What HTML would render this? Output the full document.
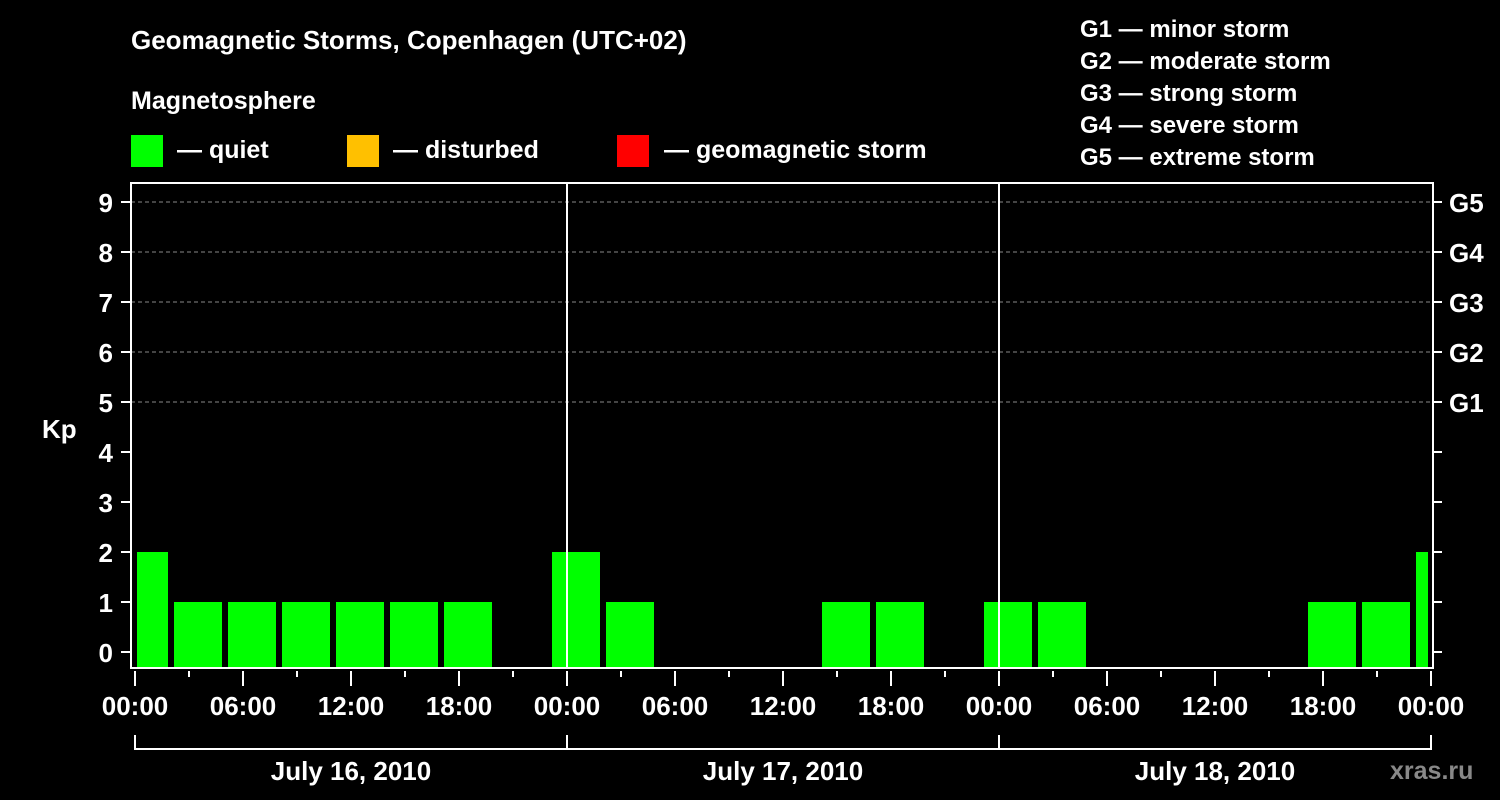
<!DOCTYPE html>
<html><head><meta charset="utf-8"><style>
body{margin:0;background:#000;}
svg{display:block;font-family:"Liberation Sans",Arial,sans-serif;font-weight:bold;}
</style></head><body>
<svg id="c" width="1500" height="800" viewBox="0 0 1500 800">
<rect width="1500" height="800" fill="#000"/>
<text x="131" y="49" fill="#fff" font-size="26">Geomagnetic Storms, Copenhagen (UTC+02)</text>
<text x="131" y="109" fill="#fff" font-size="25">Magnetosphere</text>
<g><rect x="131" y="135" width="32" height="32" fill="#00ff00"/><text x="177" y="158" fill="#fff" font-size="25">— quiet</text></g>
<g><rect x="347" y="135" width="32" height="32" fill="#ffc000"/><text x="393" y="158" fill="#fff" font-size="25">— disturbed</text></g>
<g><rect x="617" y="135" width="32" height="32" fill="#ff0000"/><text x="664" y="158" fill="#fff" font-size="25">— geomagnetic storm</text></g>
<g fill="#fff" font-size="24">
<text x="1080" y="37">G1 — minor storm</text>
<text x="1080" y="69">G2 — moderate storm</text>
<text x="1080" y="101">G3 — strong storm</text>
<text x="1080" y="133">G4 — severe storm</text>
<text x="1080" y="165">G5 — extreme storm</text>
</g>
<text x="42" y="438" fill="#fff" font-size="26">Kp</text>
<text x="1390" y="779" fill="#888" font-size="25">xras.ru</text>
<g id="grid"></g><g id="bars"></g><g id="axes"></g>
</svg>
<script>
const kpValues=[2,1,1,1,1,1,1,null,2,1,null,null,null,1,1,null,1,1,null,null,null,null,1,1,2];
const yTicks=[0,1,2,3,4,5,6,7,8,9];
const gLabels=["G1","G2","G3","G4","G5"];
const gLevels=[5,6,7,8,9];
const dayLabels=["July 16, 2010","July 17, 2010","July 18, 2010"];
const hourLabels=["00:00","06:00","12:00","18:00"];
const NS="http://www.w3.org/2000/svg";
const X0=135,PXH=18,L=131,R=1433,T=183,B=668;
const x=h=>X0+h*PXH;
const y=v=>652-v*50;
function mk(t,a,p){const e=document.createElementNS(NS,t);for(const k in a)e.setAttribute(k,a[k]);p.appendChild(e);return e;}
const grid=document.getElementById('grid'),bars=document.getElementById('bars'),axes=document.getElementById('axes');
gLevels.forEach((lv,i)=>{
 const l=mk('line',{x1:L,x2:R,y1:y(lv),y2:y(lv),stroke:'#888','stroke-dasharray':'4,3','stroke-width':1},grid);
 
 
 const t=mk('text',{x:1449,y:y(lv)+10,fill:'#fff','font-size':26},axes);t.textContent=gLabels[i];
 
 
});
kpValues.forEach((v,i)=>{
 if(v==null)return;
 const h0=2+3*(i-1);
 let a=Math.max(x(h0)+3,137),b=Math.min(x(h0+3)-3,1428);
 const r=mk('rect',{x:a,y:y(v),width:b-a,height:B-y(v),fill:'#00ff00'},bars);
 
 
});
mk('rect',{x:L,y:T,width:R-L,height:B-T,fill:'none',stroke:'#fff','stroke-width':2},axes);
[24,48].forEach(h=>mk('line',{x1:x(h),x2:x(h),y1:T,y2:B,stroke:'#fff','stroke-width':2},axes));
yTicks.forEach(v=>{
 mk('line',{x1:121,x2:L,y1:y(v),y2:y(v),stroke:'#fff','stroke-width':2},axes);
 mk('line',{x1:R,x2:1442,y1:y(v),y2:y(v),stroke:'#fff','stroke-width':2},axes);
 const t=mk('text',{x:113,y:y(v)+10,fill:'#fff','font-size':26,'text-anchor':'end'},axes);t.textContent=v;
 
 
});
for(let h=0;h<=72;h+=3){
 const maj=h%6==0;
 mk('line',{x1:x(h),x2:x(h),y1:671,y2:maj?686:677,stroke:'#fff','stroke-width':2},axes);
 if(maj){const t=mk('text',{x:x(h),y:715,fill:'#fff','font-size':26,'text-anchor':'middle'},axes);t.textContent=hourLabels[(h/6)%4];
 
 }
}
mk('line',{x1:x(0),x2:x(72),y1:749,y2:749,stroke:'#fff','stroke-width':2},axes);
[0,24,48,72].forEach(h=>mk('line',{x1:x(h),x2:x(h),y1:735,y2:750,stroke:'#fff','stroke-width':2},axes));
dayLabels.forEach((d,i)=>{const t=mk('text',{x:x(24*i+12),y:780,fill:'#fff','font-size':26,'text-anchor':'middle'},axes);t.textContent=d;
 
 });
</script>
</body></html>
